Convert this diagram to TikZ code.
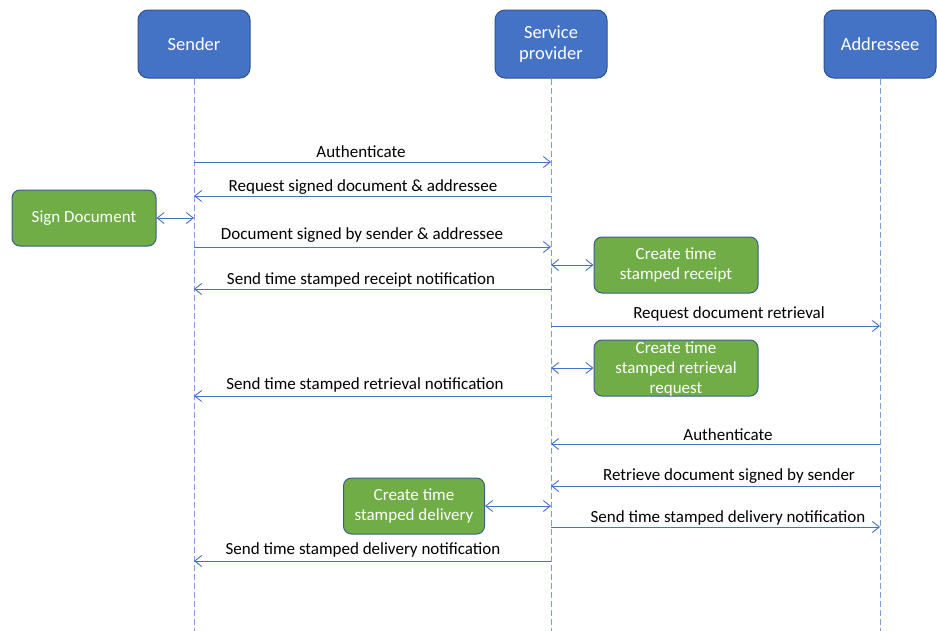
\documentclass[tikz,border=0pt]{standalone}
\usepackage{fontspec}
\setmainfont{Carlito}
\usetikzlibrary{arrows.meta}
\definecolor{ActorBlue}{HTML}{4472C4}
\definecolor{ActorEdge}{HTML}{2F528F}
\definecolor{StepGreen}{HTML}{70AD47}
\definecolor{StepEdge}{HTML}{3A5E8C}
\definecolor{MsgBlue}{HTML}{4472C4}
\definecolor{LifeBlue}{HTML}{7B9FDE}

\begin{document}
\begin{tikzpicture}[x=1pt,y=-1pt,
  every node/.style={font=\fontsize{17}{20}\selectfont},
  actor/.style={draw=ActorEdge, fill=ActorBlue, text=white, rounded corners=10pt,
    minimum width=112pt, minimum height=68pt, align=center, line width=1pt,
    font=\fontsize{18.5}{21}\selectfont},
  stepbox/.style={draw=StepEdge, fill=StepGreen, text=white, rounded corners=8pt,
    minimum height=56pt, align=center, line width=1pt},
  life/.style={LifeBlue, dash pattern=on 6pt off 3pt, line width=0.8pt},
  msg/.style={MsgBlue, line width=0.9pt, -{Straight Barb[length=7pt,width=11pt]}},
  both/.style={MsgBlue, line width=0.9pt,
    {Straight Barb[length=7pt,width=11pt]}-{Straight Barb[length=7pt,width=11pt]}},
  lbl/.style={text=black}]
  \useasboundingbox (0,0) rectangle (937,630);
  \node[actor] (sender) at (194,44) {Sender};
  \node[actor] (provider) at (551,44) {Service\\provider};
  \node[actor] (addressee) at (880,44) {Addressee};
  \foreach \a in {sender,provider,addressee} {
    \path (\a.south) ++(0,552) coordinate (\a-end);
    \draw[life] (\a.south) -- (\a-end);
  }
  \foreach \y in {162,196,218,247,265,289,326,368,396,444,486,506,527,561} {
    \coordinate (s\y) at (194,\y);
    \coordinate (p\y) at (551,\y);
    \coordinate (a\y) at (880,\y);
  }
  \node[stepbox, minimum width=144pt] (sign) at (84,218) {Sign Document};
  \node[stepbox, minimum width=164pt] (receipt) at (676,265) {Create time\\stamped receipt};
  \node[stepbox, minimum width=164pt] (retrieval) at (676,368) {};
  \node[text=white, align=center] (retrievaltxt) at (676,369) {Create time\\stamped retrieval\\request};
  \node[stepbox, minimum width=141pt] (delivery) at (414,506) {Create time\\stamped delivery};
  \draw[msg] (s162) -- (p162);
  \node[lbl] (m1) at (361,152) {Authenticate};
  \draw[msg] (p196) -- (s196);
  \node[lbl] (m2) at (363,187) {Request signed document \& addressee};
  \draw[both] (sign.east) -- (s218);
  \draw[msg] (s247) -- (p247);
  \node[lbl] (m3) at (362,235) {Document signed by sender \& addressee};
  \draw[both] (p265) -- (receipt.west);
  \draw[msg] (p289) -- (s289);
  \node[lbl] (m4) at (361,280) {Send time stamped receipt notification};
  \draw[msg] (p326) -- (a326);
  \node[lbl] (m5) at (729,314) {Request document retrieval};
  \draw[both] (p368) -- (retrieval.west);
  \draw[msg] (p396) -- (s396);
  \node[lbl] (m6) at (365,385) {Send time stamped retrieval notification};
  \draw[msg] (a444) -- (p444);
  \node[lbl] (m7) at (728,435) {Authenticate};
  \draw[msg] (a486) -- (p486);
  \node[lbl] (m8) at (729,476) {Retrieve document signed by sender};
  \draw[both] (delivery.east) -- (p506);
  \draw[msg] (p527) -- (a527);
  \node[lbl] (m9) at (728,518) {Send time stamped delivery notification};
  \draw[msg] (p561) -- (s561);
  \node[lbl] (m10) at (363,550) {Send time stamped delivery notification};
\end{tikzpicture}
\end{document}
